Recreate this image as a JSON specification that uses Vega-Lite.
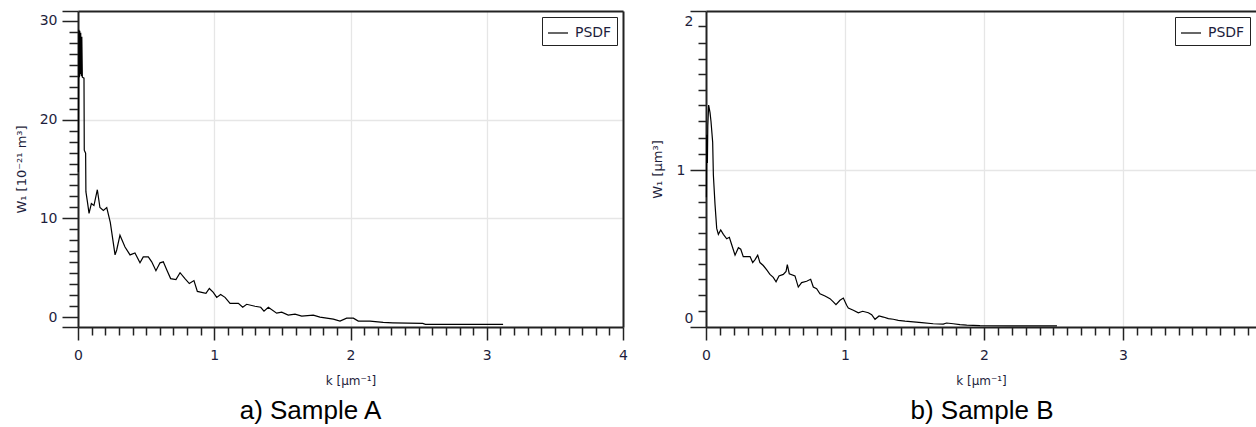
{
  "$schema": "https://vega.github.io/schema/vega-lite/v6.json",
  "padding": {"left": 15, "top": 4, "right": 0, "bottom": 0},
  "bounds": "flush",
  "spacing": 83,
  "config": {
    "view": {"stroke": null},
    "font": "DejaVu Sans",
    "axis": {
      "domainColor": "#222222",
      "domainWidth": 2,
      "tickColor": "#222222",
      "tickWidth": 1.5,
      "gridColor": "#e6e6e6",
      "gridWidth": 1.3,
      "labelFont": "DejaVu Sans",
      "labelFontSize": 14,
      "labelColor": "#1e1e3c",
      "labelOverlap": false,
      "labelFlush": false,
      "titleFont": "DejaVu Sans",
      "titleFontSize": 12,
      "titleFontWeight": "normal",
      "titleColor": "#1e1e3c"
    },
    "legend": {
      "orient": "top-right",
      "offset": 6,
      "padding": 5,
      "strokeColor": "#222222",
      "fillColor": "white",
      "symbolType": "stroke",
      "symbolSize": 400,
      "symbolStrokeWidth": 1.2,
      "symbolStrokeColor": "black",
      "labelFont": "DejaVu Sans",
      "labelFontSize": 14,
      "labelColor": "#1e1e3c",
      "labelOffset": 6
    },
    "title": {"font": "Liberation Sans", "fontSize": 26, "fontWeight": "normal", "color": "black", "orient": "bottom", "anchor": "middle"}
  },
  "datasets": {
    "sampleA": [
      {"k": 0.003, "W": 14.7}, {"k": 0.006, "W": 29.1}, {"k": 0.010, "W": 24.3}, {"k": 0.013, "W": 29.0},
      {"k": 0.017, "W": 24.6}, {"k": 0.020, "W": 28.8}, {"k": 0.024, "W": 24.4}, {"k": 0.028, "W": 28.4},
      {"k": 0.032, "W": 24.3}, {"k": 0.044, "W": 24.2}, {"k": 0.046, "W": 16.9}, {"k": 0.056, "W": 16.6},
      {"k": 0.058, "W": 12.7}, {"k": 0.070, "W": 11.6}, {"k": 0.081, "W": 10.5}, {"k": 0.098, "W": 11.5},
      {"k": 0.117, "W": 11.3}, {"k": 0.142, "W": 12.9}, {"k": 0.161, "W": 11.1}, {"k": 0.186, "W": 10.8},
      {"k": 0.211, "W": 11.1}, {"k": 0.237, "W": 9.6}, {"k": 0.272, "W": 6.3}, {"k": 0.284, "W": 6.8},
      {"k": 0.308, "W": 8.3}, {"k": 0.345, "W": 7.1}, {"k": 0.382, "W": 6.3}, {"k": 0.418, "W": 6.5},
      {"k": 0.455, "W": 5.5}, {"k": 0.479, "W": 6.1}, {"k": 0.516, "W": 6.1}, {"k": 0.541, "W": 5.6},
      {"k": 0.572, "W": 4.7}, {"k": 0.602, "W": 5.5}, {"k": 0.626, "W": 5.6}, {"k": 0.651, "W": 4.8},
      {"k": 0.680, "W": 3.9}, {"k": 0.719, "W": 3.8}, {"k": 0.749, "W": 4.5}, {"k": 0.785, "W": 3.9},
      {"k": 0.817, "W": 3.4}, {"k": 0.851, "W": 3.7}, {"k": 0.876, "W": 2.6}, {"k": 0.939, "W": 2.4},
      {"k": 0.964, "W": 2.9}, {"k": 0.993, "W": 2.5}, {"k": 1.018, "W": 2.0}, {"k": 1.047, "W": 2.3},
      {"k": 1.079, "W": 2.0}, {"k": 1.116, "W": 1.4}, {"k": 1.177, "W": 1.4}, {"k": 1.209, "W": 1.0},
      {"k": 1.238, "W": 1.3}, {"k": 1.299, "W": 1.1}, {"k": 1.341, "W": 1.0}, {"k": 1.365, "W": 0.6},
      {"k": 1.397, "W": 1.0}, {"k": 1.458, "W": 0.4}, {"k": 1.495, "W": 0.5}, {"k": 1.543, "W": 0.2},
      {"k": 1.593, "W": 0.3}, {"k": 1.642, "W": 0.1}, {"k": 1.727, "W": 0.2}, {"k": 1.776, "W": 0.0},
      {"k": 1.874, "W": -0.2}, {"k": 1.923, "W": -0.4}, {"k": 1.972, "W": -0.1}, {"k": 2.021, "W": -0.1},
      {"k": 2.057, "W": -0.4}, {"k": 2.143, "W": -0.4}, {"k": 2.240, "W": -0.54}, {"k": 2.310, "W": -0.58},
      {"k": 2.530, "W": -0.64}, {"k": 2.550, "W": -0.74}, {"k": 3.120, "W": -0.74}
    ],
    "sampleB": [
      {"k": 0.003, "W": 0.82}, {"k": 0.005, "W": 1.24}, {"k": 0.010, "W": 1.05}, {"k": 0.013, "W": 1.30},
      {"k": 0.019, "W": 1.44}, {"k": 0.029, "W": 1.39}, {"k": 0.036, "W": 1.33}, {"k": 0.048, "W": 1.19},
      {"k": 0.053, "W": 0.97}, {"k": 0.065, "W": 0.77}, {"k": 0.077, "W": 0.61}, {"k": 0.089, "W": 0.57},
      {"k": 0.106, "W": 0.60}, {"k": 0.125, "W": 0.57}, {"k": 0.149, "W": 0.54}, {"k": 0.168, "W": 0.55},
      {"k": 0.185, "W": 0.50}, {"k": 0.209, "W": 0.43}, {"k": 0.233, "W": 0.48}, {"k": 0.250, "W": 0.47},
      {"k": 0.268, "W": 0.42}, {"k": 0.293, "W": 0.42}, {"k": 0.317, "W": 0.42}, {"k": 0.336, "W": 0.38},
      {"k": 0.353, "W": 0.40}, {"k": 0.372, "W": 0.43}, {"k": 0.388, "W": 0.38}, {"k": 0.412, "W": 0.36},
      {"k": 0.437, "W": 0.33}, {"k": 0.460, "W": 0.30}, {"k": 0.484, "W": 0.28}, {"k": 0.504, "W": 0.25},
      {"k": 0.525, "W": 0.29}, {"k": 0.556, "W": 0.30}, {"k": 0.576, "W": 0.32}, {"k": 0.585, "W": 0.366},
      {"k": 0.599, "W": 0.305}, {"k": 0.640, "W": 0.29}, {"k": 0.664, "W": 0.215}, {"k": 0.688, "W": 0.245},
      {"k": 0.724, "W": 0.254}, {"k": 0.753, "W": 0.267}, {"k": 0.772, "W": 0.215}, {"k": 0.796, "W": 0.204},
      {"k": 0.820, "W": 0.17}, {"k": 0.856, "W": 0.155}, {"k": 0.892, "W": 0.137}, {"k": 0.916, "W": 0.115},
      {"k": 0.935, "W": 0.096}, {"k": 0.964, "W": 0.126}, {"k": 0.988, "W": 0.141}, {"k": 1.012, "W": 0.092},
      {"k": 1.024, "W": 0.074}, {"k": 1.060, "W": 0.059}, {"k": 1.096, "W": 0.042}, {"k": 1.127, "W": 0.052},
      {"k": 1.168, "W": 0.042}, {"k": 1.192, "W": 0.029}, {"k": 1.216, "W": -0.002}, {"k": 1.245, "W": 0.02},
      {"k": 1.276, "W": 0.013}, {"k": 1.312, "W": 0.002}, {"k": 1.347, "W": -0.002}, {"k": 1.383, "W": -0.009},
      {"k": 1.432, "W": -0.015}, {"k": 1.492, "W": -0.02}, {"k": 1.552, "W": -0.025}, {"k": 1.635, "W": -0.032},
      {"k": 1.707, "W": -0.034}, {"k": 1.731, "W": -0.027}, {"k": 1.779, "W": -0.032}, {"k": 1.827, "W": -0.038},
      {"k": 1.876, "W": -0.042}, {"k": 1.971, "W": -0.045}, {"k": 2.209, "W": -0.047}, {"k": 2.525, "W": -0.047}
    ]
  },
  "resolve": {"scale": {"stroke": "independent"}, "legend": {"stroke": "independent"}},
  "hconcat": [
    {
      "width": 545,
      "height": 316,
      "title": {"text": "a) Sample A", "dx": -40, "offset": 12},
      "layer": [
        {
          "data": {"name": "sampleA"},
          "mark": {"type": "line", "strokeWidth": 1.2, "interpolate": "linear"},
          "encoding": {
            "x": {
              "field": "k", "type": "quantitative",
              "scale": {"domain": [0, 4], "nice": false, "zero": false},
              "axis": {
                "values": [0,0.1,0.2,0.3,0.4,0.5,0.6,0.7,0.8,0.9,1,1.1,1.2,1.3,1.4,1.5,1.6,1.7,1.8,1.9,2,2.1,2.2,2.3,2.4,2.5,2.6,2.7,2.8,2.9,3,3.1,3.2,3.3,3.4,3.5,3.6,3.7,3.8,3.9,4],
                "labelExpr": "abs(datum.value - round(datum.value)) < 0.001 ? format(datum.value, 'd') : ''",
                "tickSize": {"condition": {"test": "abs(datum.value - round(datum.value)) < 0.001", "value": 13}, "value": 8},
                "labelPadding": 8,
                "grid": true,
                "gridOpacity": {"condition": {"test": "datum.value > 0.5 && abs(datum.value - round(datum.value)) < 0.001", "value": 1}, "value": 0},
                "title": "k [µm⁻¹]",
                "titlePadding": 13
              }
            },
            "y": {
              "field": "W", "type": "quantitative",
              "scale": {"domain": [-1, 31], "nice": false, "zero": false},
              "axis": {
                "values": [-1,0,1.111,2.222,3.333,4.444,5.556,6.667,7.778,8.889,10,11.111,12.222,13.333,14.444,15.556,16.667,17.778,18.889,20,21.111,22.222,23.333,24.444,25.556,26.667,27.778,28.889,30,31],
                "labelExpr": "abs(datum.value % 10) < 0.001 ? format(datum.value, 'd') : ''",
                "tickSize": {"condition": {"test": "datum.value < -0.5 || datum.value > 30.5 || abs(datum.value % 10) < 0.001", "value": 16}, "value": 9},
                "labelPadding": 5,
                "grid": true,
                "gridOpacity": {"condition": {"test": "datum.value > 5 && datum.value < 25 && abs(datum.value % 10) < 0.001", "value": 1}, "value": 0},
                "title": "W₁ [10⁻²¹ m³]",
                "titleFontSize": 13,
                "titlePadding": 11
              }
            },
            "stroke": {"datum": "PSDF", "type": "nominal", "scale": {"range": ["black"]}, "legend": {"title": null}}
          }
        },
        {
          "data": {"name": "sampleA"},
          "mark": {"type": "line", "opacity": 0},
          "encoding": {
            "x": {"field": "k", "type": "quantitative", "axis": {"orient": "top", "labels": false, "ticks": false, "grid": false, "title": null}},
            "y": {"field": "W", "type": "quantitative", "axis": {"orient": "right", "labels": false, "ticks": false, "grid": false, "title": null}}
          }
        }
      ],
      "resolve": {"axis": {"x": "independent", "y": "independent"}}
    },
    {
      "width": 550,
      "height": 316,
      "title": {"text": "b) Sample B", "dx": 1, "offset": 12},
      "layer": [
        {
          "data": {"name": "sampleB"},
          "mark": {"type": "line", "strokeWidth": 1.2, "interpolate": "linear"},
          "encoding": {
            "x": {
              "field": "k", "type": "quantitative",
              "scale": {"domain": [0, 3.957], "nice": false, "zero": false},
              "axis": {
                "values": [0,0.1,0.2,0.3,0.4,0.5,0.6,0.7,0.8,0.9,1,1.1,1.2,1.3,1.4,1.5,1.6,1.7,1.8,1.9,2,2.1,2.2,2.3,2.4,2.5,2.6,2.7,2.8,2.9,3,3.1,3.2,3.3,3.4,3.5,3.6,3.7,3.8,3.9],
                "labelExpr": "abs(datum.value - round(datum.value)) < 0.001 ? format(datum.value, 'd') : ''",
                "tickSize": {"condition": {"test": "abs(datum.value - round(datum.value)) < 0.001", "value": 13}, "value": 8},
                "labelPadding": 8,
                "grid": true,
                "gridOpacity": {"condition": {"test": "datum.value > 0.5 && abs(datum.value - round(datum.value)) < 0.001", "value": 1}, "value": 0},
                "title": "k [µm⁻¹]",
                "titlePadding": 13
              }
            },
            "y": {
              "field": "W", "type": "quantitative",
              "scale": {"domain": [-0.054, 2.074], "nice": false, "zero": false},
              "axis": {
                "values": [-0.054,0,0.054,0.16,0.27,0.37,0.47,0.58,0.69,0.79,0.9,1,1.11,1.22,1.33,1.44,1.54,1.65,1.75,1.86,1.97,2,2.074],
                "labelExpr": "datum.value === 0 || datum.value === 1 || datum.value === 2 ? format(datum.value, 'd') : ''",
                "tickSize": {"condition": {"test": "datum.value < -0.03 || datum.value > 2.05 || datum.value === 1", "value": 16}, "value": 8},
                "tickOpacity": {"condition": {"test": "datum.value === 0 || datum.value === 2", "value": 0}, "value": 1},
                "labelPadding": 5,
                "grid": true,
                "gridOpacity": {"condition": {"test": "datum.value === 1", "value": 1}, "value": 0},
                "title": "W₁ [µm³]",
                "titleFontSize": 13,
                "titlePadding": 12
              }
            },
            "stroke": {"datum": "PSDF", "type": "nominal", "scale": {"range": ["black"]}, "legend": {"title": null}}
          }
        },
        {
          "data": {"name": "sampleB"},
          "mark": {"type": "line", "opacity": 0},
          "encoding": {
            "x": {"field": "k", "type": "quantitative", "axis": {"orient": "top", "labels": false, "ticks": false, "grid": false, "title": null}},
            "y": {"field": "W", "type": "quantitative", "axis": null}
          }
        }
      ],
      "resolve": {"axis": {"x": "independent", "y": "independent"}}
    }
  ]
}
